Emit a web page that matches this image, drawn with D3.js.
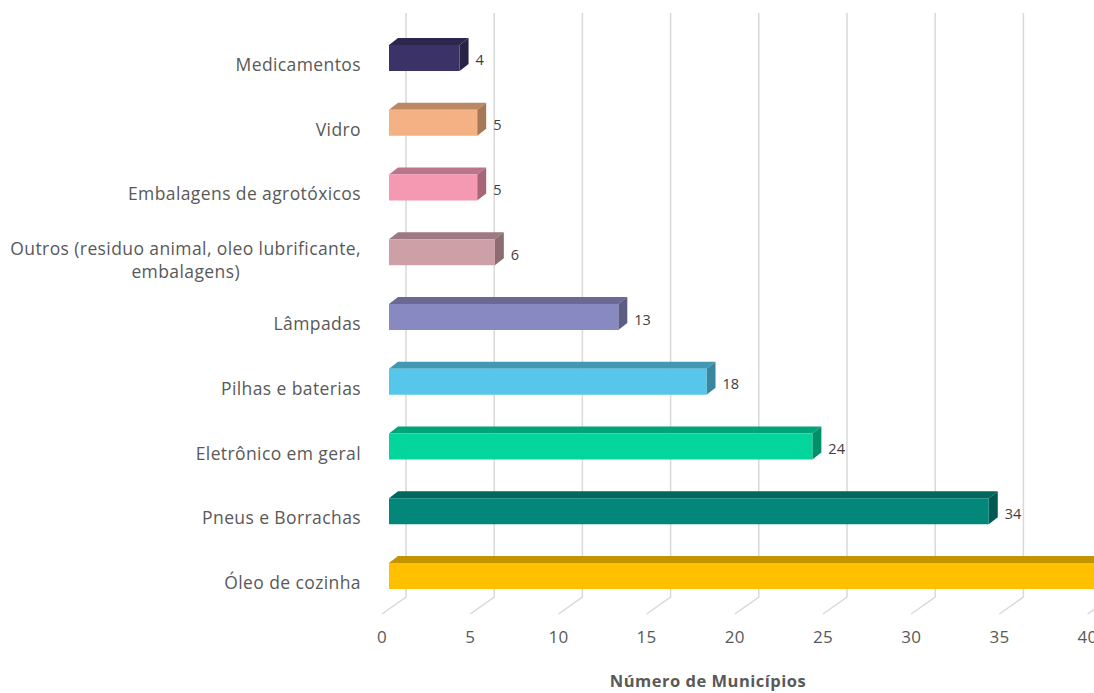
<!DOCTYPE html>
<html>
<head>
<meta charset="utf-8">
<script src="https://cdnjs.cloudflare.com/ajax/libs/d3/7.8.5/d3.min.js"></script>
<style>
    body { margin: 0; background: #fff; }
    svg { display: block; }
</style>
</head>
<body>
<script>
(function(){

    //chart data, top to bottom
    var categories = ["Medicamentos", "Vidro", "Embalagens de agrotóxicos",
        "Outros (residuo animal, oleo lubrificante,|embalagens)", "Lâmpadas",
        "Pilhas e baterias", "Eletrônico em geral", "Pneus e Borrachas", "Óleo de cozinha"];
    var values = [4, 5, 5, 6, 13, 18, 24, 34, 40];
    var tickValues = [0, 5, 10, 15, 20, 25, 30, 35, 40];
    var axisTitle = "Número de Municípios";

    //bar palette (front faces)
    var colors = ["#3b3367", "#f4b183", "#f598b2", "#cda0a8", "#8989c2",
        "#56c6ea", "#03d59d", "#03877a", "#ffc000"];

    var width = 1094,
        height = 693,
        font = "'Open Sans', sans-serif";

    //3d offsets
    var depthX = 9, depthY = -7;       //bar depth
    var wallX = 17, wallTop = 13, floorY = 597, floorDx = -24, floorDy = 17;

    var svg = d3.select("body")
        .append("svg")
        .attr("width", width)
        .attr("height", height);

    //front-face value scale
    var x = d3.scaleLinear()
        .domain([0, 40])
        .range([389, 389 + 40 * 17.64]);

    var y = d3.scaleBand()
        .domain(categories)
        .range([45, 45 + 8 * 64.75 + 26])
        .paddingInner(0.6)
        .paddingOuter(0);

    //gridlines on the back wall plus floor diagonal
    var grid = svg.append("g").attr("class", "grid");
    grid.selectAll("path")
        .data(tickValues)
        .enter()
        .append("path")
        .attr("d", function(d){
            var bx = x(d) + wallX;
            return "M" + bx + "," + wallTop + "V" + floorY +
                "L" + (bx + floorDx) + "," + (floorY + floorDy);
        })
        .attr("fill", "none")
        .attr("stroke", "#d9d9d9")
        .attr("stroke-width", 1.5);

    //tick labels
    svg.append("g")
        .selectAll("text")
        .data(tickValues)
        .enter()
        .append("text")
        .attr("x", function(d){ return x(d) + wallX + floorDx; })
        .attr("y", 643)
        .attr("text-anchor", "middle")
        .style("font-family", font)
        .style("font-size", "17px")
        .style("letter-spacing", "0.3px")
        .style("fill", "#595959")
        .text(function(d){ return d; });

    //bars
    var bars = svg.append("g")
        .selectAll("g")
        .data(categories)
        .enter()
        .append("g")
        .attr("class", "bar");

    function face(d, i, kind){
        var x0 = x(0), x1 = x(values[i]),
            y0 = y(d), y1 = y(d) + y.bandwidth();
        if (kind == "top"){
            return "M" + x0 + "," + y0 + "L" + (x0 + depthX) + "," + (y0 + depthY) +
                "L" + (x1 + depthX) + "," + (y0 + depthY) + "L" + x1 + "," + y0 + "Z";
        } else if (kind == "side"){
            return "M" + x1 + "," + y0 + "L" + (x1 + depthX) + "," + (y0 + depthY) +
                "L" + (x1 + depthX) + "," + (y1 + depthY) + "L" + x1 + "," + y1 + "Z";
        }
        return "M" + x0 + "," + y0 + "H" + x1 + "V" + y1 + "H" + x0 + "Z";
    }

    bars.append("path")
        .attr("d", function(d, i){ return face(d, i, "top"); })
        .attr("fill", function(d, i){ return d3.color(colors[i]).darker(0.75); });

    bars.append("path")
        .attr("d", function(d, i){ return face(d, i, "side"); })
        .attr("fill", function(d, i){ return d3.color(colors[i]).darker(1.1); });

    bars.append("path")
        .attr("d", function(d, i){ return face(d, i, "front"); })
        .attr("fill", function(d, i){ return colors[i]; });

    //value labels
    bars.append("text")
        .attr("x", function(d, i){ return x(values[i]) + 16; })
        .attr("y", function(d){ return y(d) + y.bandwidth() / 2 + 2; })
        .attr("dominant-baseline", "central")
        .style("font-family", font)
        .style("font-size", "14.5px")
        .style("fill", "#404040")
        .text(function(d, i){ return values[i]; });

    //category labels
    var labels = svg.append("g")
        .selectAll("text")
        .data(categories)
        .enter()
        .append("text")
        .attr("text-anchor", "end")
        .attr("dominant-baseline", "central")
        .attr("x", 361)
        .attr("y", function(d){
            var lines = d.split("|");
            return y(d) + y.bandwidth() / 2 + (lines.length > 1 ? -4 : 6);
        })
        .style("font-family", font)
        .style("font-size", "17.5px")
        .style("letter-spacing", "0.4px")
        .style("fill", "#595959");

    labels.selectAll("tspan")
        .data(function(d){ return d.split("|"); })
        .enter()
        .append("tspan")
        .attr("x", 361)
        .attr("dy", function(d, i){ return i == 0 ? 0 : 23; })
        .text(function(d){ return d; });

    //centre continuation lines under the first line
    labels.each(function(){
        var spans = d3.select(this).selectAll("tspan").nodes();
        if (spans.length > 1){
            var w = spans[0].getComputedTextLength();
            d3.selectAll(spans.slice(1))
                .attr("x", 361 - w / 2)
                .attr("text-anchor", "middle");
        }
    });

    //axis title
    svg.append("text")
        .attr("x", 708)
        .attr("y", 687)
        .attr("text-anchor", "middle")
        .style("font-family", font)
        .style("font-size", "16.5px")
        .style("letter-spacing", "0.5px")
        .style("font-weight", "bold")
        .style("fill", "#595959")
        .text(axisTitle);

})();
</script>
</body>
</html>
